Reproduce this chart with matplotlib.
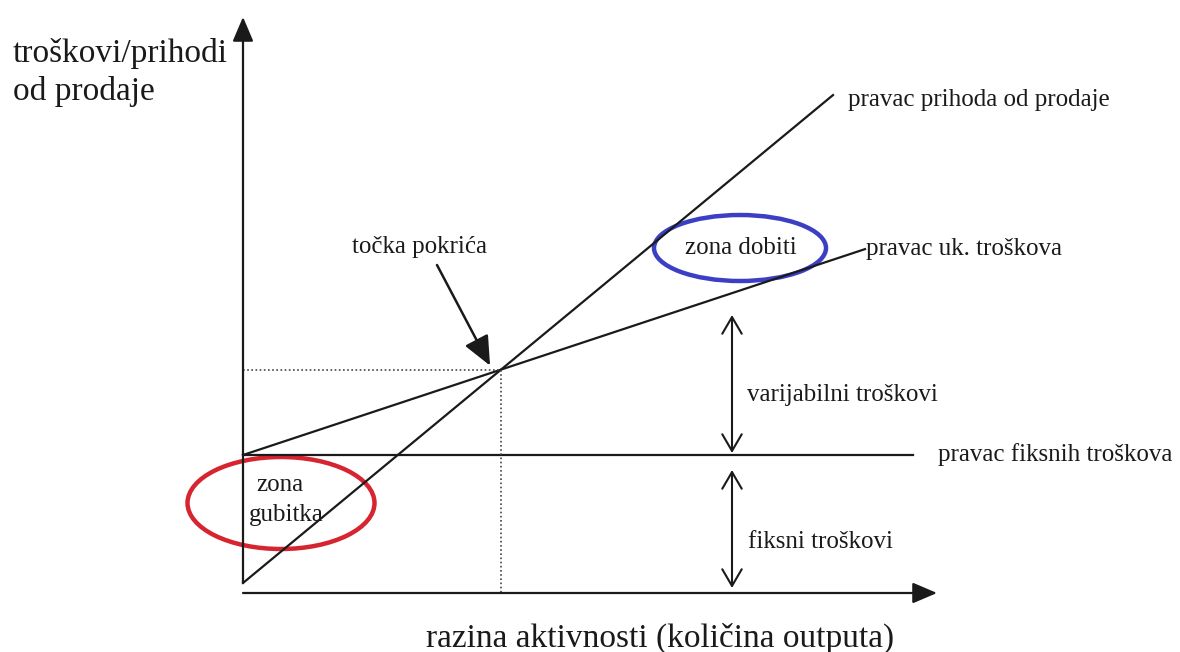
import matplotlib
matplotlib.use("Agg")
import matplotlib.pyplot as plt
from matplotlib.patches import Ellipse
import numpy as np

plt.rcParams['font.family'] = ['Liberation Serif', 'DejaVu Serif']

# schematic break-even values (units are arbitrary)
fixed_cost = 138.0
var_cost_slope = 0.331
revenue_start = 10.0
revenue_slope = 0.827
q_axis_max, y_axis_max = 694, 576
q_revenue_end, q_total_end, q_fixed_end = 590, 622, 670

labels = {
    'y': 'troškovi/prihodi\nod prodaje',
    'x': 'razina aktivnosti (količina outputa)',
    'revenue': 'pravac prihoda od prodaje',
    'total': 'pravac uk. troškova',
    'fixed': 'pravac fiksnih troškova',
    'var_span': 'varijabilni troškovi',
    'fixed_span': 'fiksni troškovi',
    'bep': 'točka pokrića',
    'profit': 'zona dobiti',
}

# break-even point
be_q = (fixed_cost - revenue_start) / (revenue_slope - var_cost_slope)
be_y = revenue_start + revenue_slope * be_q

fig = plt.figure(figsize=(11.8, 6.52), dpi=100)
ax = fig.add_axes([0, 0, 1, 1])
ax.set_xlim(-243, 937)
ax.set_ylim(-59, 593)
ax.axis('off')

ink = '#1a1a1a'
lw = 1.6

# axes with arrows
ax.annotate('', xy=(q_axis_max, 0), xytext=(0, 0),
            arrowprops=dict(arrowstyle='-|>,head_length=0.75,head_width=0.32',
                            mutation_scale=20, lw=lw, color=ink, shrinkA=0, shrinkB=0))
ax.annotate('', xy=(0, y_axis_max), xytext=(0, revenue_start),
            arrowprops=dict(arrowstyle='-|>,head_length=0.75,head_width=0.32',
                            mutation_scale=20, lw=lw, color=ink, shrinkA=0, shrinkB=0))

# lines
q = np.array([0, q_revenue_end])
ax.plot(q, revenue_start + revenue_slope * q, color=ink, lw=lw)
q = np.array([0, q_total_end])
ax.plot(q, fixed_cost + var_cost_slope * q, color=ink, lw=lw)
ax.plot([0, q_fixed_end], [fixed_cost, fixed_cost], color=ink, lw=lw)

# dotted guides to break-even point
ax.plot([0, be_q], [be_y, be_y], color='#444444', lw=1.2, ls=(0, (1, 1.5)))
ax.plot([be_q, be_q], [be_y, 0], color='#444444', lw=1.2, ls=(0, (1, 1.5)))

# double arrows for cost components
span_q = 489
for y0, y1 in [(fixed_cost + 2, 278), (5, fixed_cost - 15)]:
    ax.annotate('', xy=(span_q, y1), xytext=(span_q, y0),
                arrowprops=dict(arrowstyle='<->,head_length=0.6,head_width=0.35',
                                mutation_scale=20, lw=1.5, color=ink,
                                shrinkA=0, shrinkB=0))

# arrow to break-even
ax.annotate('', xy=(be_q - 11, be_y + 4), xytext=(194, 328),
            arrowprops=dict(arrowstyle='-|>,head_length=0.9,head_width=0.4',
                            mutation_scale=20, lw=1.8, color=ink,
                            shrinkA=0, shrinkB=0))

# zone ellipses
ax.add_patch(Ellipse((497, 345), 172, 66, fill=False, ec='#3b3fc4', lw=3.2))
ax.add_patch(Ellipse((38, 90), 187, 92, fill=False, ec='#d62430', lw=3.2))

big, small = 24, 18
ax.text(-230, 555, labels['y'], fontsize=big, ha='left', va='top',
        color=ink, linespacing=1.3)
ax.text(417, -45, labels['x'], fontsize=big, ha='center', va='center', color=ink)
ax.text(605, 493, labels['revenue'], fontsize=small, ha='left', va='center', color=ink)
ax.text(177, 346, labels['bep'], fontsize=small, ha='center', va='center', color=ink)
ax.text(498, 345, labels['profit'], fontsize=small, ha='center', va='center', color=ink)
ax.text(623, 344, labels['total'], fontsize=small, ha='left', va='center', color=ink)
ax.text(504, 198, labels['var_span'], fontsize=small, ha='left', va='center', color=ink)
ax.text(695, 138, labels['fixed'], fontsize=small, ha='left', va='center', color=ink)
ax.text(505, 51, labels['fixed_span'], fontsize=small, ha='left', va='center', color=ink)
ax.text(37, 108, 'zona', fontsize=small, ha='center', va='center', color=ink)
ax.text(43, 78, 'gubitka', fontsize=small, ha='center', va='center', color=ink)

fig.savefig('out.png', dpi=100)
